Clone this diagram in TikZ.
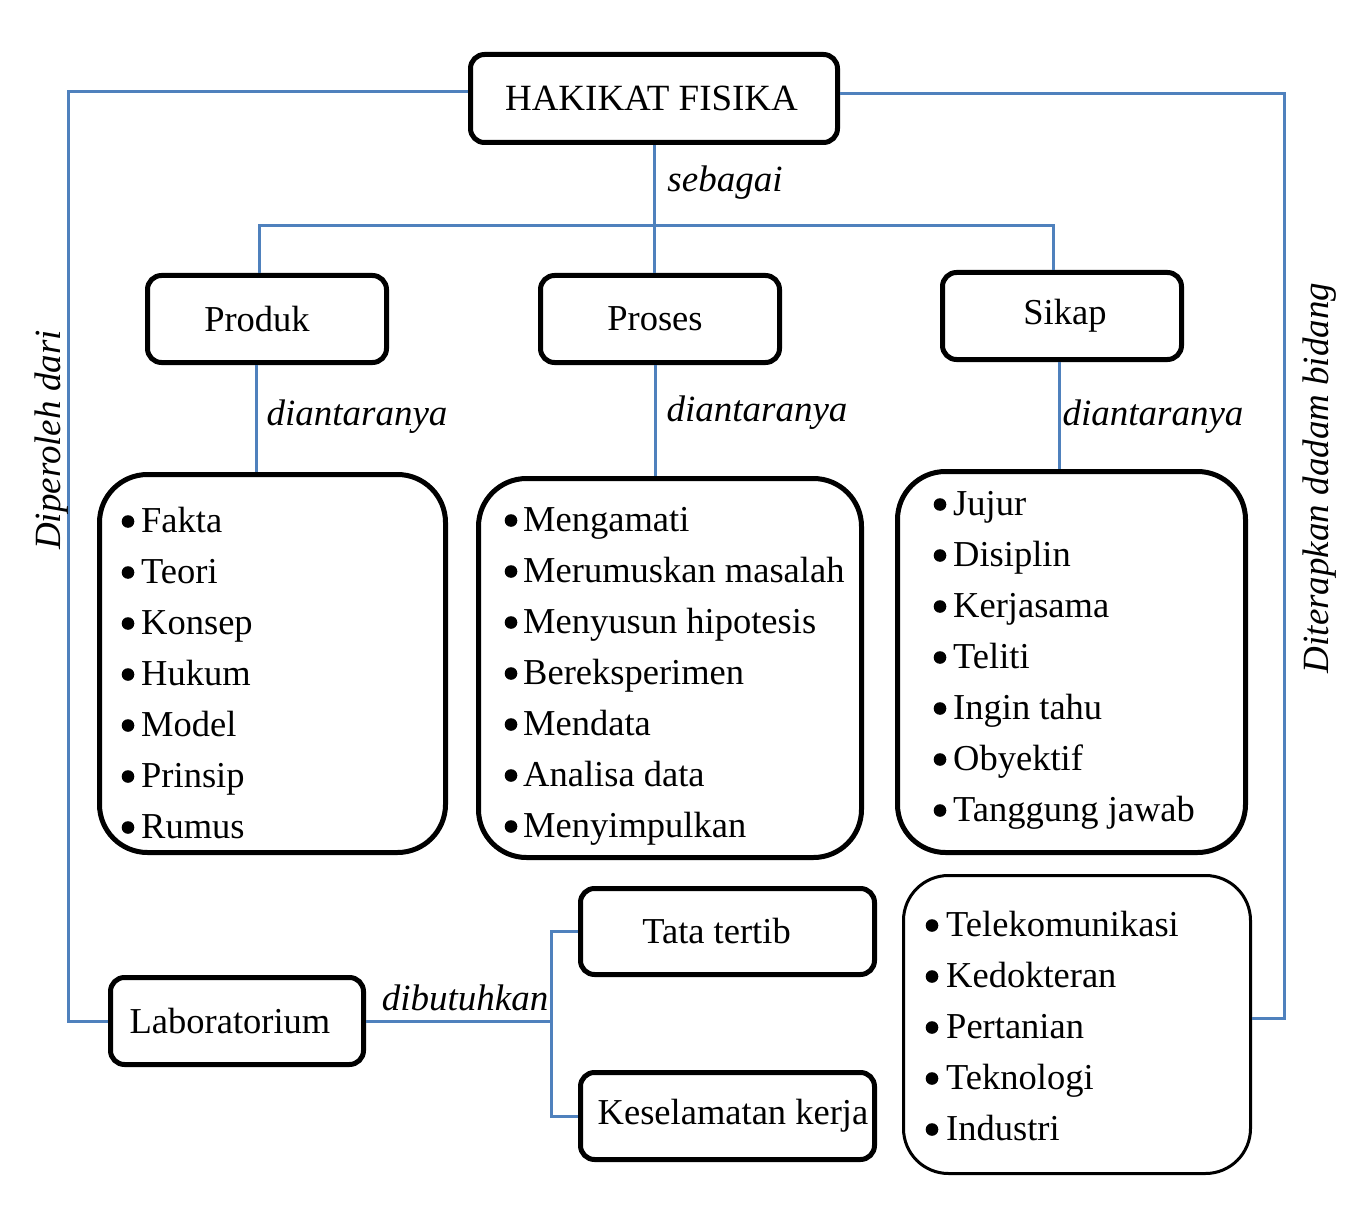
\documentclass[tikz,border=0pt]{standalone}
\usepackage{fontspec}
\setmainfont{Liberation Serif}
\definecolor{lblue}{RGB}{79,129,189}
\begin{document}
\begin{tikzpicture}[x=1pt,y=-1pt,
  conn/.style={draw=lblue,line width=3pt},
  hbox/.style={draw=black,line width=5pt,rounded corners=14pt,fill=white,inner sep=0pt,font=\fontsize{36.5}{43}\selectfont},
  lbox/.style={draw=black,line width=5pt,rounded corners=48pt,inner sep=0pt},
  item/.style={anchor=base west,inner sep=0pt,font=\fontsize{36.5}{43}\selectfont},
  lbl/.style={inner sep=0pt,font=\fontsize{37}{43}\selectfont\itshape}]
\useasboundingbox (0,0) rectangle (1361,1217);
\fill[white] (0,0) rectangle (1361,1217);

% boxes
\node[hbox,minimum width=367,minimum height=88,font=\fontsize{37}{43}\selectfont] (hak) at (654,98.5) {\hspace*{-5pt}HAKIKAT FISIKA};
\node[hbox,minimum width=239,minimum height=87] (prod) at (267,319) {\hspace*{-20pt}Produk};
\node[hbox,minimum width=239,minimum height=87] (pros) at (660,319) {\hspace*{-10pt}Proses};
\node[hbox,minimum width=239,minimum height=87] (sik) at (1062,316) {Sikap\hspace*{-6pt}};
\node[hbox,minimum width=253,minimum height=87] (lab) at (237,1021) {\hspace*{-14pt}Laboratorium};
\node[hbox,minimum width=294,minimum height=86] (tata) at (727.5,931.5) {\hspace*{-22pt}Tata tertib};
\node[hbox,minimum width=294,minimum height=87] (kes) at (727.5,1116) {Keselamatan kerja\hspace*{-11pt}};

\node[lbox,minimum width=346,minimum height=378] (plist) at (272.5,663.5) {};
\node[lbox,minimum width=383,minimum height=379] (rlist) at (670,668) {};
\node[lbox,minimum width=348,minimum height=381] (slist) at (1071.5,662) {};
\node[lbox,line width=3pt,rounded corners=45pt,minimum width=347,minimum height=298] (apl) at (1077,1024.5) {};

% items
\foreach \t [count=\i] in {Fakta,Teori,Konsep,Hukum,Model,Prinsip,Rumus}{
  \fill (128,{532+51*(\i-1)-10.5}) circle (6.3);
  \node[item] (pi\i) at (141,{532+51*(\i-1)}) {\t};}
\foreach \t [count=\i] in {Mengamati,Merumuskan masalah,Menyusun hipotesis,Bereksperimen,Mendata,Analisa data,Menyimpulkan}{
  \fill (511,{531+51*(\i-1)-10.5}) circle (6.3);
  \node[item] (ri\i) at (523,{531+51*(\i-1)}) {\t};}
\foreach \t [count=\i] in {Jujur,Disiplin,Kerjasama,Teliti,Ingin tahu,Obyektif,Tanggung jawab}{
  \fill (940,{515+51*(\i-1)-10.5}) circle (6.3);
  \node[item] (si\i) at (953,{515+51*(\i-1)}) {\t};}
\foreach \t [count=\i] in {Telekomunikasi,Kedokteran,Pertanian,Teknologi,Industri}{
  \fill (932,{936+51*(\i-1)-10.5}) circle (6.3);
  \node[item] (ai\i) at (946,{936+51*(\i-1)}) {\t};}

% helper coordinates
\coordinate (L) at (68,0);
\coordinate (R) at (1284,0);
\coordinate (bar) at (0,226);
\coordinate (J) at (551,1021);
\coordinate (hw) at ([yshift=6.5pt]hak.west);
\coordinate (he) at ([yshift=4.5pt]hak.east);
\coordinate (ae) at ([yshift=6.5pt]apl.east);
\coordinate (pn) at ([xshift=-8pt]prod.north);
\coordinate (sn) at ([xshift=-9pt]sik.north);
\coordinate (ps) at ([xshift=-11pt]prod.south);
\coordinate (ss) at ([xshift=-3pt]sik.south);
\coordinate (rs) at ([xshift=-5pt]pros.south);

% connectors
\draw[conn] (hak.south) -- (hak.south |- pros.north);
\draw[conn] (pn) -- (pn |- bar) -- (sn |- bar) -- (sn);
\draw[conn] (ps) -- (ps |- plist.north);
\draw[conn] (rs) -- (rs |- rlist.north);
\draw[conn] (ss) -- (ss |- slist.north);
\draw[conn] (hw) -- (hw -| L) -- (lab.west -| L) -- (lab.west);
\draw[conn] (he) -- (he -| R) -- (ae -| R) -- (ae);
\draw[conn] (lab.east) -- (J);
\draw[conn] (tata.west) -| (J) |- (kes.west);

% labels
\node[lbl] (sebagai) at (725,183) {sebagai};
\node[lbl] (d1) at (357,417) {diantaranya};
\node[lbl] (d2) at (757,413) {diantaranya};
\node[lbl] (d3) at (1153,417) {diantaranya};
\node[lbl] (dibut) at (465,998) {dibutuhkan};
\node[lbl,rotate=90] (dip) at (52,440) {Diperoleh dari};
\node[lbl,rotate=90] (dit) at (1320,478) {Diterapkan dadam bidang};
\end{tikzpicture}
\end{document}
